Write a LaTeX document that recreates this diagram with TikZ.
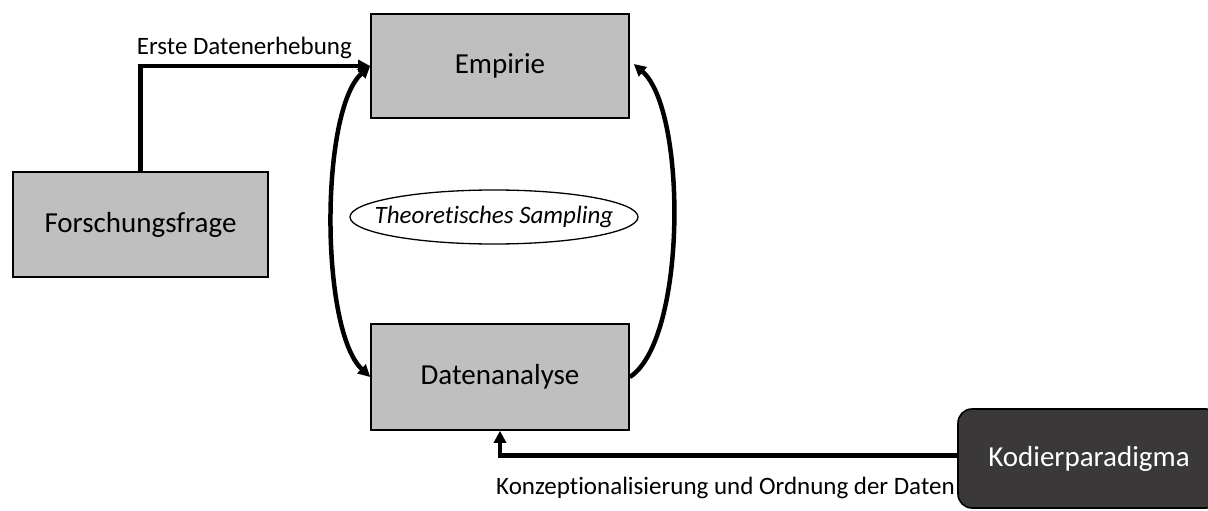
\documentclass[tikz,border=0pt]{standalone}
\usepackage{fontspec}
\setmainfont{Carlito}[Ligatures={NoCommon}]
\usetikzlibrary{arrows.meta,shapes.geometric}
\definecolor{boxgray}{HTML}{BFBFBF}
\definecolor{darkbox}{HTML}{3A3838}
\begin{document}
\begin{tikzpicture}[x=1pt,y=-1pt,
  gbox/.style={draw=black,line width=1.6pt,fill=boxgray,minimum width=258pt,minimum height=104pt,inner sep=0pt,font=\fontsize{29}{34}\selectfont},
  darkbox/.style={draw=black,line width=1.6pt,fill=darkbox,rounded corners=14pt,minimum width=262pt,minimum height=99pt,inner sep=0pt,text=white,font=\fontsize{29}{34}\selectfont},
  tip/.tip={Triangle[length=12pt,width=12pt]},
  conn/.style={line width=4.5pt,-tip},
  lbl/.style={font=\fontsize{25}{30}\selectfont,inner sep=0pt}]
\useasboundingbox (0,0) rectangle (1208,511);
\node[gbox] (emp) at (500,66) {\raisebox{-3pt}{Empirie}};
\node[gbox,minimum width=255pt,minimum height=105pt] (fors) at (140.5,224.5) {\raisebox{-2pt}{Forschungsfrage}};
\node[gbox,minimum height=106pt] (dat) at (500,377) {\raisebox{-2pt}{Datenanalyse}};
\node[darkbox] (kod) at (1089,458.5) {\raisebox{-6pt}{Kodierparadigma}};
\node[draw=black,line width=1.3pt,ellipse,minimum width=288pt,minimum height=54pt,inner sep=0pt,font=\fontsize{25}{30}\selectfont\itshape] (samp) at (494,217) {\makebox[0pt]{Theoretisches Sampling}};
\draw[conn] (fors.north) |- (emp.west);
\node[lbl,anchor=south east] (l1) at (352,59) {Erste Datenerhebung};
\draw[line width=4.5pt,tip-tip] (emp.west) .. controls (320,110) and (320,330) .. (dat.west);
\draw[conn] (dat.east) .. controls (687,340) and (687,110) .. ([xshift=4pt,yshift=2pt]emp.east);
\draw[conn] ([yshift=3pt]kod.west) -| (dat.south);
\node[lbl,anchor=north east] (l2) at (955,477) {Konzeptionalisierung und Ordnung der Daten};
\end{tikzpicture}
\end{document}
